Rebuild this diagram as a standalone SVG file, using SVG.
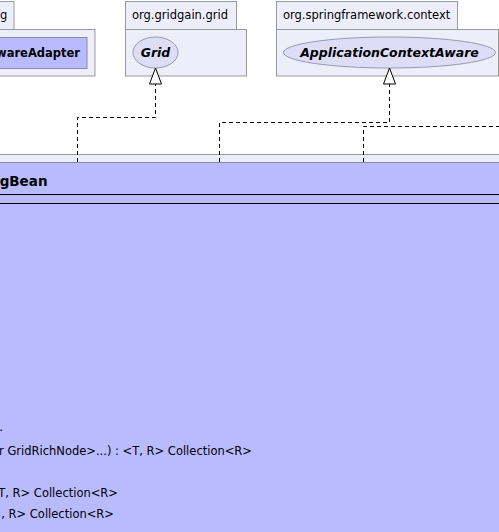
<svg xmlns="http://www.w3.org/2000/svg" width="499" height="532" viewBox="0 0 499 532">
<defs>
<style>
.pkg{fill:#EEEEFA;stroke:#999999;stroke-width:1}
.iface{fill:#DDDDF8;stroke:#9999AA;stroke-width:1}
.cls{fill:#B9BBFF;stroke:#8888AA;stroke-width:1}
.t{font-family:"DejaVu Sans",sans-serif;font-size:11.5px;fill:#000}
.b{font-family:"DejaVu Sans",sans-serif;font-weight:bold;fill:#000}
.bi{font-family:"DejaVu Sans",sans-serif;font-weight:bold;font-style:italic;font-size:12.5px;fill:#000}
.edge{fill:none;stroke:#000;stroke-width:1;stroke-dasharray:4,3}
.head{fill:#fff;stroke:#000;stroke-width:1}
</style>
</defs>
<g id="pkg-left">
<rect class="pkg" x="-20" y="1.5" width="34" height="28"/>
<rect class="pkg" x="-20" y="29.5" width="115" height="46.5"/>
<rect class="cls" x="-20" y="37.5" width="107" height="31"/>
<text class="t" x="0" y="19">g</text>
<text class="b" font-size="11.5" x="80" y="57" text-anchor="end">wareAdapter</text>
</g>
<g id="pkg-grid">
<rect class="pkg" x="125.5" y="1.5" width="111" height="28"/>
<rect class="pkg" x="125.5" y="29.5" width="121" height="46.5"/>
<text class="t" x="132" y="19">org.gridgain.grid</text>
<g id="Grid">
<ellipse class="iface" cx="155.5" cy="52.5" rx="22.5" ry="15.5"/>
<text class="bi" x="155.5" y="57" text-anchor="middle">Grid</text>
</g>
</g>
<g id="pkg-context">
<rect class="pkg" x="276.5" y="1.5" width="181" height="28"/>
<rect class="pkg" x="276.5" y="29.5" width="222" height="46.5"/>
<text class="t" x="283" y="19">org.springframework.context</text>
<g id="ApplicationContextAware">
<ellipse class="iface" cx="389.5" cy="52.5" rx="106" ry="15.5"/>
<text class="bi" x="389.5" y="57" text-anchor="middle">ApplicationContextAware</text>
</g>
</g>
<g id="pkg-bottom">
<rect class="pkg" x="-20" y="154.5" width="540" height="400"/>
<g id="SpringBean">
<rect class="cls" x="-20" y="162.5" width="540" height="400"/>
<text class="b" font-size="13.5" x="47.5" y="186" text-anchor="end">gBean</text>
<line x1="-20" y1="194.5" x2="520" y2="194.5" stroke="#000" stroke-width="1"/>
<line x1="-20" y1="203.5" x2="520" y2="203.5" stroke="#000" stroke-width="1"/>
<text class="t" x="3" y="431" text-anchor="end">.</text>
<text class="t" x="252" y="455" text-anchor="end">r GridRichNode&gt;...) : &lt;T, R&gt; Collection&lt;R&gt;</text>
<text class="t" x="118" y="497" text-anchor="end">T, R&gt; Collection&lt;R&gt;</text>
<text class="t" x="114" y="518" text-anchor="end">, R&gt; Collection&lt;R&gt;</text>
</g>
</g>
<g id="connectors">
<polyline class="edge" points="77.5,162 77.5,117.5 155.5,117.5 155.5,84"/>
<polygon class="head" points="155.5,68 149.5,84 161.5,84"/>
<polyline class="edge" points="219.5,162 219.5,122.5 389.5,122.5 389.5,84"/>
<polygon class="head" points="389.5,68 383.5,84 395.5,84"/>
<polyline class="edge" points="363.5,162 363.5,126.5 510,126.5"/>
</g>
</svg>
